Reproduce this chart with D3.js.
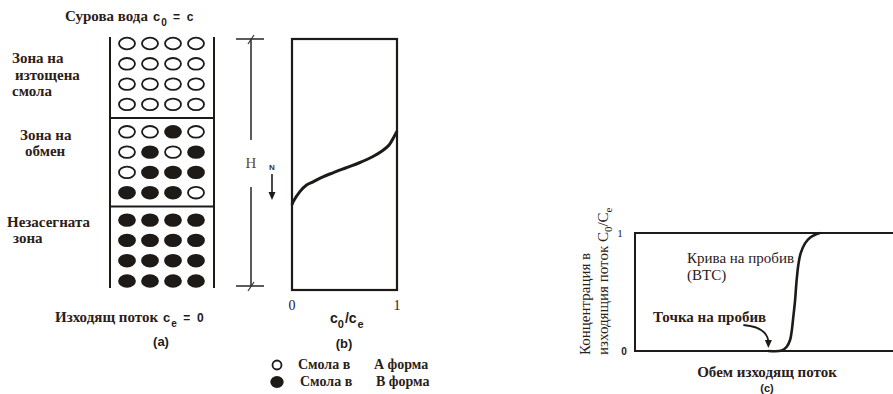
<!DOCTYPE html>
<html>
<head>
<meta charset="utf-8">
<script src="https://cdn.jsdelivr.net/npm/d3@7"></script>
<style>
  html, body { margin: 0; padding: 0; background: #fff; }
  svg { display: block; }
  .serif { font-family: "Liberation Serif", "DejaVu Serif", serif; }
  .sans { font-family: "Liberation Sans", "DejaVu Sans", sans-serif; }
</style>
</head>
<body>
<svg id="chart" width="893" height="394"></svg>
<script>
// ---- data ----------------------------------------------------------------
// Resin bed, rows top-to-bottom, columns left-to-right: 0 = A form (open), 1 = B form (filled)
const resinRows = [
  [0, 0, 0, 0], [0, 0, 0, 0], [0, 0, 0, 0], [0, 0, 0, 0],
  [0, 0, 1, 0], [0, 1, 0, 1], [0, 1, 1, 1], [1, 1, 1, 0],
  [1, 1, 1, 1], [1, 1, 1, 1], [1, 1, 1, 1], [1, 1, 1, 1]
];
const rowsPerZone = 4;
const zoneLabels = [
  ["Зона на", "изтощена", "смола"],
  ["Зона на", "обмен"],
  ["Незасегната", "зона"]
];

// (b) concentration ratio along the bed depth (depth as a fraction of H)
const profileRatio = [0, 0.012, 0.075, 0.139, 0.201, 0.295, 0.39, 0.516, 0.642, 0.767, 0.861, 0.925, 0.972, 1.0];
const profileDepth = [0.66, 0.648, 0.608, 0.582, 0.569, 0.549, 0.533, 0.513, 0.493, 0.469, 0.445, 0.422, 0.389, 0.367];
const ratioTicks = ["0", "1"];

// (c) breakthrough curve: effluent volume (relative) vs C0/Ce
const effluentVolume = [0.517, 0.569, 0.588, 0.601, 0.607, 0.613, 0.620, 0.626, 0.633, 0.642, 0.659, 0.678, 0.704, 0.717];
const effluentConc   = [0.0, 0.004, 0.036, 0.093, 0.163, 0.277, 0.418, 0.587, 0.729, 0.828, 0.912, 0.96, 0.99, 1.0];
const concTicks = ["0", "1"];
const breakthroughIndex = 0;

const legendForms = [0, 1];
const legendNames = ["А форма", "В форма"];

// ---- drawing -------------------------------------------------------------
const ink = "#1d1a18";
const svg = d3.select("#chart");

// (a) resin column
const colX = d3.scalePoint().domain(d3.range(4)).range([127, 196]);
const zoneGap = 0.35;
const rowY = d3.scaleLinear().domain([0, 11 + 2 * zoneGap]).range([43.5, 281]);
const rowPos = i => rowY(i + zoneGap * Math.floor(i / rowsPerZone));

const colA = svg.append("g");
[110, 214].forEach(x => colA.append("line")
  .attr("x1", x).attr("x2", x).attr("y1", 37).attr("y2", 288)
  .attr("stroke", ink).attr("stroke-width", 2));
[1, 2].forEach(z => {
  const y = (rowPos(z * rowsPerZone - 1) + rowPos(z * rowsPerZone)) / 2;
  colA.append("line").attr("x1", 110).attr("x2", 214).attr("y1", y).attr("y2", y)
    .attr("stroke", ink).attr("stroke-width", 2);
});
resinRows.forEach((row, i) => {
  colA.selectAll(null).data(row).join("ellipse")
    .attr("cx", (d, j) => colX(j))
    .attr("cy", rowPos(i))
    .attr("rx", 8).attr("ry", 5.8)
    .attr("fill", d => d ? ink : "#fff")
    .attr("stroke", ink).attr("stroke-width", 1.8);
});

// zone labels
const zoneTextPos = [
  [[12, 63], [15, 80], [12, 96]],
  [[20, 140], [25, 156]],
  [[7, 227], [13, 243]]
];
zoneLabels.forEach((lines, z) => lines.forEach((t, k) => {
  svg.append("text").attr("class", "serif")
    .attr("x", zoneTextPos[z][k][0]).attr("y", zoneTextPos[z][k][1])
    .attr("font-size", 15).attr("font-weight", "bold").attr("fill", "#2b2018")
    .text(t);
}));

// influent / effluent captions
function formula(g, x, y, base, sub, rest) {
  const t = g.append("text").attr("x", x).attr("y", y).attr("fill", ink);
  t.append("tspan").attr("class", "serif").attr("font-size", 15).attr("font-weight", "bold")
    .attr("fill", "#2b2018").text(base);
  t.append("tspan").attr("class", "sans").attr("font-size", 13).attr("font-weight", "bold")
    .attr("dx", 5).text("c");
  t.append("tspan").attr("class", "sans").attr("font-size", 10).attr("font-weight", "bold")
    .attr("dy", 5).attr("dx", 1).text(sub);
  t.append("tspan").attr("class", "sans").attr("font-size", 12).attr("font-weight", "bold")
    .attr("dy", -5).attr("dx", 3).attr("xml:space", "preserve").text(" =  " + rest);
}
formula(svg, 65, 21, "Сурова вода", "0", "c");
formula(svg, 55, 322, "Изходящ поток", "e", "0");

svg.append("text").attr("class", "sans").attr("x", 161).attr("y", 346)
  .attr("text-anchor", "middle").attr("font-size", 13).attr("font-weight", "bold")
  .attr("fill", ink).text("(a)");

// (b) profile along depth
const xB = d3.scaleLinear().domain([0, 1]).range([292, 397]);
const yB = d3.scaleLinear().domain([0, 1]).range([39, 290]);
const gB = svg.append("g");
gB.append("rect").attr("x", xB(0)).attr("y", yB(0))
  .attr("width", xB(1) - xB(0)).attr("height", yB(1) - yB(0))
  .attr("fill", "none").attr("stroke", ink).attr("stroke-width", 2.2);
gB.append("path")
  .datum(d3.zip(profileRatio, profileDepth))
  .attr("d", d3.line().x(d => xB(d[0])).y(d => yB(d[1])).curve(d3.curveCatmullRom.alpha(0.5)))
  .attr("fill", "none").attr("stroke", ink).attr("stroke-width", 3);
gB.selectAll(null).data(ratioTicks).join("text").attr("class", "serif")
  .attr("x", (d, i) => xB(i)).attr("y", 310).attr("text-anchor", "middle")
  .attr("font-size", 14).attr("fill", "#2b2018").text(d => d);

// c0/ce axis caption
const capB = gB.append("text").attr("x", 330).attr("y", 323).attr("fill", ink)
  .attr("class", "sans").attr("font-weight", "bold");
capB.append("tspan").attr("font-size", 14).text("c");
capB.append("tspan").attr("font-size", 11).attr("dy", 5).text("0");
capB.append("tspan").attr("font-size", 14).attr("dy", -5).attr("dx", 1).text("/c");
capB.append("tspan").attr("font-size", 11).attr("dy", 5).attr("dx", 1).text("e");
gB.append("text").attr("class", "sans").attr("x", 344).attr("y", 348)
  .attr("text-anchor", "middle").attr("font-size", 13).attr("font-weight", "bold")
  .attr("fill", ink).text("(b)");

// bed height dimension
const dimX = 251;
const gH = svg.append("g").attr("stroke", "#333");
gH.append("line").attr("x1", dimX).attr("x2", dimX).attr("y1", yB(0)).attr("y2", 140).attr("stroke-width", 1.6);
gH.append("line").attr("x1", dimX).attr("x2", dimX).attr("y1", 187).attr("y2", yB(1) - 4).attr("stroke-width", 1.6);
[yB(0), yB(1) - 4].forEach(y => {
  gH.append("line").attr("x1", 236).attr("x2", 264).attr("y1", y).attr("y2", y).attr("stroke-width", 1.6);
  gH.append("line").attr("x1", dimX - 3).attr("x2", dimX + 3).attr("y1", y + 5).attr("y2", y - 4).attr("stroke-width", 1.2);
});
svg.append("text").attr("class", "serif").attr("x", dimX).attr("y", 168)
  .attr("text-anchor", "middle").attr("font-size", 15).attr("fill", "#6b4a22").text("H");
svg.append("text").attr("class", "sans").attr("x", 272).attr("y", 170)
  .attr("text-anchor", "middle").attr("font-size", 8).attr("font-weight", "bold")
  .attr("fill", "#333").text("N");
svg.append("line").attr("x1", 272).attr("x2", 272).attr("y1", 174).attr("y2", 193)
  .attr("stroke", ink).attr("stroke-width", 1.6);
svg.append("path").attr("d", "M268.5,192 L275.5,192 L272,200 Z").attr("fill", ink);

// legend
const gL = svg.append("g");
legendForms.forEach((f, i) => {
  const y = 365 + i * 17;
  gL.append("ellipse").attr("cx", 277).attr("cy", y)
    .attr("rx", f ? 5.8 : 4.5).attr("ry", f ? 5 : 4.5)
    .attr("fill", f ? ink : "#fff").attr("stroke", ink).attr("stroke-width", 1.8);
  gL.append("text").attr("class", "serif").attr("x", 298 + i * 2).attr("y", y + 4)
    .attr("font-size", 14).attr("font-weight", "bold").attr("fill", "#2b2018").text("Смола в");
  gL.append("text").attr("class", "serif").attr("x", 374 + i * 2).attr("y", y + 4)
    .attr("font-size", 14).attr("font-weight", "bold").attr("fill", "#2b2018").text(legendNames[i]);
});

// (c) breakthrough curve
const xC = d3.scaleLinear().domain([0, 1]).range([635, 893]);
const yC = d3.scaleLinear().domain([0, 1]).range([351, 233]);
const gC = svg.append("g");
gC.append("rect").attr("x", xC(0)).attr("y", yC(1))
  .attr("width", 270).attr("height", yC(0) - yC(1))
  .attr("fill", "none").attr("stroke", ink).attr("stroke-width", 2);
gC.append("path")
  .datum(d3.zip(effluentVolume, effluentConc))
  .attr("d", d3.line().x(d => xC(d[0])).y(d => yC(d[1])).curve(d3.curveCatmullRom.alpha(0.5)))
  .attr("fill", "none").attr("stroke", ink).attr("stroke-width", 2.6);
gC.append("text").attr("class", "serif").attr("x", 620).attr("y", yC(1) + 4)
  .attr("text-anchor", "middle").attr("font-size", 11).attr("fill", ink).text(concTicks[1]);
gC.append("text").attr("class", "sans").attr("x", 624).attr("y", yC(0) + 4)
  .attr("text-anchor", "middle").attr("font-size", 10).attr("font-weight", "bold")
  .attr("fill", ink).text(concTicks[0]);

// annotations
gC.append("text").attr("class", "serif").attr("x", 687).attr("y", 263)
  .attr("font-size", 15).attr("fill", "#2b2018").text("Крива на пробив");
gC.append("text").attr("class", "serif").attr("x", 687).attr("y", 280)
  .attr("font-size", 15).attr("fill", "#2b2018").text("(BTC)");
gC.append("text").attr("class", "serif").attr("x", 653).attr("y", 322)
  .attr("font-size", 15).attr("font-weight", "bold").attr("fill", "#2b2018").text("Точка на пробив");
const bx = xC(effluentVolume[breakthroughIndex]), by = yC(effluentConc[breakthroughIndex]);
gC.append("path")
  .attr("d", `M${bx - 25},${by - 26} Q${bx - 2},${by - 24} ${bx},${by - 10}`)
  .attr("fill", "none").attr("stroke", ink).attr("stroke-width", 1.8);
gC.append("path").attr("d", `M${bx - 3.5},${by - 11} L${bx + 3.5},${by - 11} L${bx},${by - 3} Z`).attr("fill", ink);

// axis captions
gC.append("text").attr("class", "serif").attr("x", 767).attr("y", 377)
  .attr("text-anchor", "middle").attr("font-size", 15).attr("font-weight", "bold")
  .attr("fill", "#2b2018").text("Обем изходящ поток");
gC.append("text").attr("class", "sans").attr("x", 767).attr("y", 392)
  .attr("text-anchor", "middle").attr("font-size", 11).attr("font-weight", "bold")
  .attr("fill", ink).text("(c)");

const yl1 = gC.append("text").attr("class", "serif")
  .attr("transform", "translate(590,355) rotate(-90)")
  .attr("font-size", 15).attr("fill", "#2b2018").text("Концентрация в");
const yl2 = gC.append("text").attr("class", "serif")
  .attr("transform", "translate(608,355) rotate(-90)")
  .attr("font-size", 15).attr("fill", "#2b2018");
yl2.append("tspan").text("изходящия поток C");
yl2.append("tspan").attr("font-size", 11).attr("dy", 4).text("0");
yl2.append("tspan").attr("dy", -4).text("/C");
yl2.append("tspan").attr("font-size", 11).attr("dy", 4).text("e");
</script>
</body>
</html>
